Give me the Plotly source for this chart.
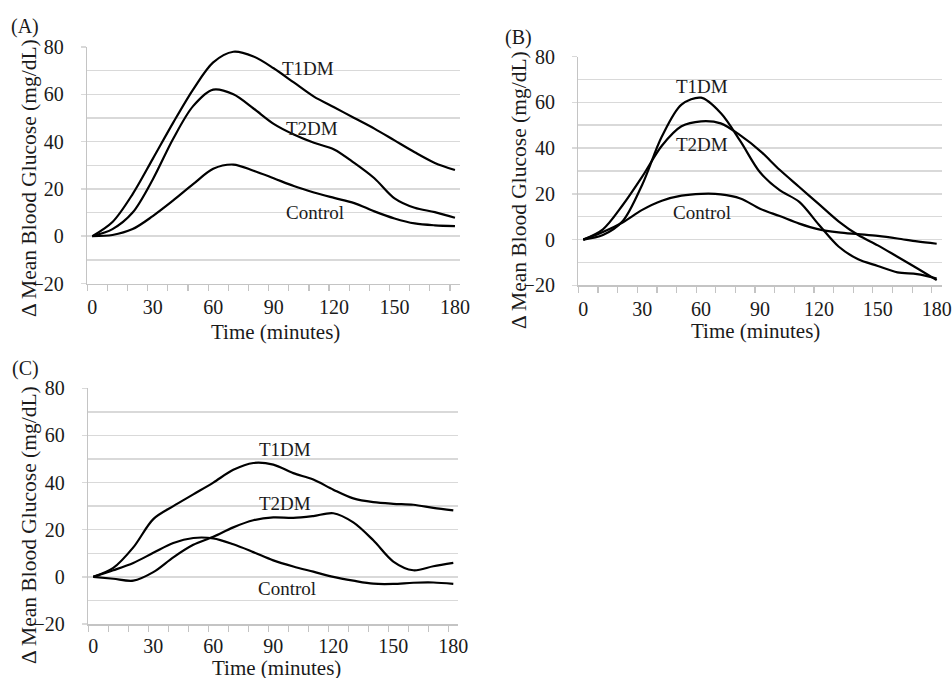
import plotly.graph_objects as go

minutes = [0, 10, 20, 30, 40, 50, 60, 70, 80, 90, 100, 110, 120, 130, 140, 150, 160, 170, 180]
x_tick_vals = [0, 30, 60, 90, 120, 150, 180]
y_tick_vals = [-20, 0, 20, 40, 60, 80]

# Panel A
a_t1dm = [0, 6, 17.8, 32.7, 47.8, 62, 73.5, 78, 76, 71, 65, 59, 54.5, 50, 45.5, 40.5, 35.5, 31, 28]
a_t2dm = [0, 3, 10, 24, 41, 55, 62, 60, 54, 47.5, 43, 39.5, 36.7, 31, 24.5, 16, 12, 10.2, 7.8]
a_control = [0, 0.5, 3, 8.5, 15, 22, 28.5, 30.3, 27.7, 24.5, 21.2, 18.5, 16.2, 14, 10.5, 7.5, 5.4, 4.6, 4.3]

# Panel B
b_t1dm = [0, 2, 8, 24, 45, 59, 62, 55.3, 43, 29.4, 21.6, 16.5, 6.5, -3, -8.6, -11.5, -14.3, -15.1, -17]
b_t2dm = [0, 4.5, 15, 27.5, 41, 49.5, 51.7, 50.8, 45.5, 38.8, 30.5, 23, 15.5, 8, 2, -2.5, -7.5, -12.5, -17.7]
b_control = [0, 3.3, 7.5, 13, 17, 19.2, 20, 19.8, 18, 13.5, 10.3, 7, 4.5, 3.2, 2.4, 1.6, 0.5, -0.8, -1.8]

# Panel C
c_t1dm = [0, 3.8, 12.5, 24.5, 30, 35, 40, 45.4, 48.3, 47.6, 44, 41.3, 37, 33.3, 31.7, 31, 30.6, 29.3, 28.2]
c_t2dm = [0, -0.8, -1.6, 2, 8.3, 13.6, 17, 21, 24, 25.2, 25, 25.8, 27, 23.1, 15.5, 6.5, 2.8, 4.5, 5.9]
c_control = [0, 2.8, 5.9, 10.2, 14.4, 16.5, 16.3, 13.8, 10.5, 7, 4.4, 2.2, 0, -1.6, -2.9, -3, -2.5, -2.4, -3]

series_names = ["T1DM", "T2DM", "Control"]
panel_letters = ["(A)", "(B)", "(C)"]
x_title = "Time (minutes)"
y_title = "Δ Mean Blood Glucose (mg/dL)"

# label positions (data coords) per panel
label_pos = {
    "A": [(107, 71), (109, 45.5), (110.5, 10.2)],
    "B": [(60.6, 66.8), (60.6, 41.7), (60.3, 12)],
    "C": [(95.8, 53.9), (95.8, 31.3), (97, -5)],
}

W, H = 952, 678
FONT = "Liberation Serif, Times New Roman, serif"
TXT = "#1a1a1a"
GRID = "#d9d9d9"
AXL = "#c4c4c4"

# panel geometry in window pixels: (x_left, x_right, y_top, y_bottom)
geo = {
    "A": (87.3, 460.0, 47.0, 283.5),
    "B": (578.4, 941.6, 56.5, 285.4),
    "C": (88.3, 458.3, 388.3, 624.0),
}


def px(xp, yp):
    return xp / W, 1 - yp / H


fig = go.Figure()

panels = [("A", a_t1dm, a_t2dm, a_control, "x", "y"),
          ("B", b_t1dm, b_t2dm, b_control, "x2", "y2"),
          ("C", c_t1dm, c_t2dm, c_control, "x3", "y3")]

for key, s1, s2, s3, xa, ya in panels:
    for name, ys in zip(series_names, [s1, s2, s3]):
        fig.add_trace(go.Scatter(
            x=minutes, y=ys, mode="lines", name=name, xaxis=xa, yaxis=ya,
            line=dict(color="black", width=2.2, shape="spline", smoothing=0.9),
            showlegend=False, hoverinfo="skip"))

layout = dict(
    width=W, height=H, margin=dict(l=0, r=0, t=0, b=0, pad=0, autoexpand=False),
    paper_bgcolor="white", plot_bgcolor="white",
    font=dict(family=FONT, color=TXT, size=20),
    showlegend=False,
)

annotations = []
for i, (key, s1, s2, s3, xa, ya) in enumerate(panels):
    xl, xr, yt, yb = geo[key]
    x0, y1 = px(xl, yt)
    x1, y0 = px(xr, yb)
    suffix = "" if i == 0 else str(i + 1)
    layout["xaxis" + suffix] = dict(
        domain=[x0, x1], anchor=ya, range=[-2.5, 182.5],
        tickmode="array", tickvals=x_tick_vals, ticks="",
        ticklabelstandoff=3 if key == "C" else 5,
        tickfont=dict(family=FONT, size=20, color=TXT),
        showgrid=False, zeroline=False, showline=True, linecolor=AXL, linewidth=1.5,
        minor=dict(tick0=-2.5, dtick=10, ticks="outside", ticklen=6,
                   tickcolor=AXL, tickwidth=1.2, showgrid=False),
        fixedrange=True, automargin=False,
    )
    layout["yaxis" + suffix] = dict(
        domain=[y0, y1], anchor=xa, range=[-20, 80],
        tickmode="array", tickvals=y_tick_vals, ticks="outside", ticklen=5,
        tickcolor=GRID, tickwidth=1.5,
        ticklabelstandoff=13,
        tickfont=dict(family=FONT, size=20, color=TXT),
        showgrid=True, gridcolor=GRID, gridwidth=1.5,
        zeroline=False, showline=True, linecolor=AXL, linewidth=1.5,
        minor=dict(tick0=0, dtick=10, showgrid=True, gridcolor=GRID, gridwidth=1.5, ticks=""),
        fixedrange=True, automargin=False,
    )
    for name, (lx, ly) in zip(series_names, label_pos[key]):
        annotations.append(dict(x=lx, y=ly, xref=xa, yref=ya, text=name, showarrow=False,
                                font=dict(family=FONT, size=19, color=TXT),
                                xanchor="center", yanchor="middle"))

title_pos = {
    "A": dict(letter=(25, 27), xt=(275, 332), yt=(29, 178)),
    "B": dict(letter=(518, 37), xt=(755, 331), yt=(519, 190)),
    "C": dict(letter=(25, 368), xt=(276, 667.5), yt=(29, 525)),
}
for letter, key in zip(panel_letters, ["A", "B", "C"]):
    tp = title_pos[key]
    lx, ly = px(*tp["letter"])
    annotations.append(dict(x=lx, y=ly, xref="paper", yref="paper", text=letter, showarrow=False,
                            font=dict(family=FONT, size=20, color=TXT),
                            xanchor="center", yanchor="middle"))
    tx, ty = px(*tp["xt"])
    annotations.append(dict(x=tx, y=ty, xref="paper", yref="paper", text=x_title, showarrow=False,
                            font=dict(family=FONT, size=21, color=TXT),
                            xanchor="center", yanchor="middle"))
    yx, yy = px(*tp["yt"])
    annotations.append(dict(x=yx, y=yy, xref="paper", yref="paper", text=y_title, showarrow=False,
                            textangle=-90, font=dict(family=FONT, size=21.5, color=TXT),
                            xanchor="center", yanchor="middle"))

layout["annotations"] = annotations
fig.update_layout(**layout)
fig.write_html(
    "out.html",
    config={"displayModeBar": False, "staticPlot": True},
    post_script="document.body.style.margin='0';document.body.style.overflow='hidden';",
)
